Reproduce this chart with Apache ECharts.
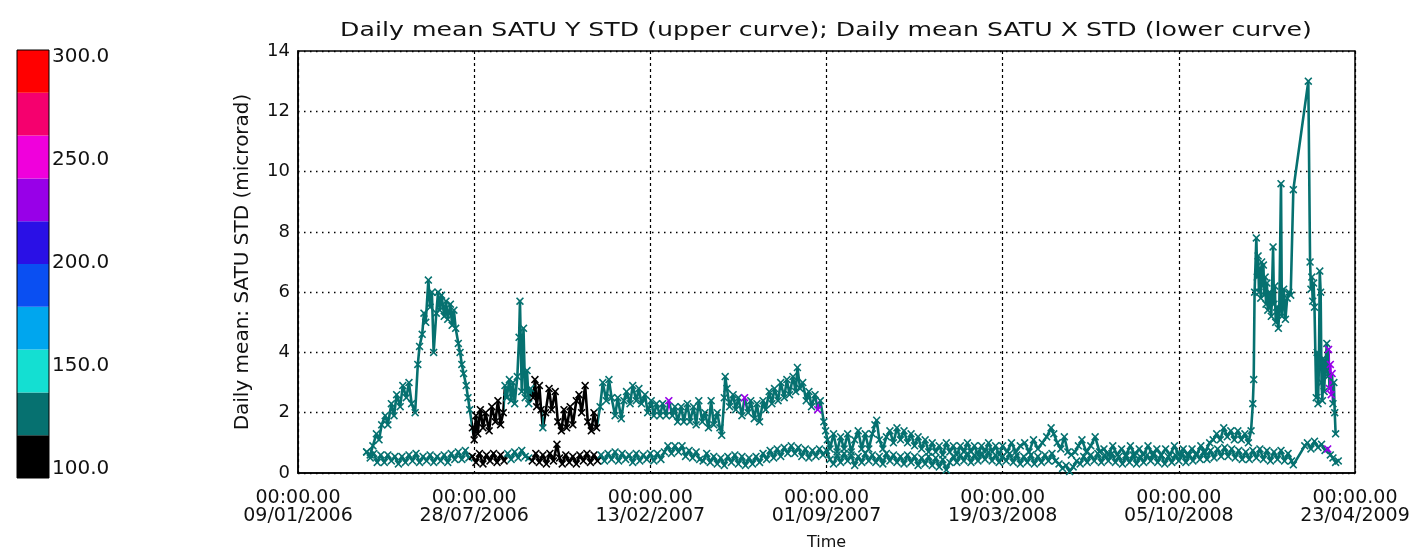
<!DOCTYPE html>
<html><head><meta charset="utf-8">
<script src="https://cdn.jsdelivr.net/npm/echarts@6/dist/echarts.min.js"></script>
<style>html,body{margin:0;padding:0;background:#fff}#c{width:1425px;height:556px}</style>
</head><body><div id="c"></div>
<script>
// ---------------- data ----------------
// x = days since 09/01/2006 00:00, y = microrad
const chartTitle = 'Daily mean SATU Y STD (upper curve); Daily mean SATU X STD (lower curve)';
const yAxisTitle = 'Daily mean: SATU STD (microrad)';
const xAxisTitle = 'Time';
const xTickTimes = ['00:00.00','00:00.00','00:00.00','00:00.00','00:00.00','00:00.00','00:00.00'];
const xTickDates = ['09/01/2006','28/07/2006','13/02/2007','01/09/2007','19/03/2008','05/10/2008','23/04/2009'];

// upper curve: daily mean SATU Y STD  [day, value]
const satuY = [
 [78,0.7],[82,0.6],[85,0.9],[89,1.3],[92,1.1],[95,1.6],[99,1.9],[102,1.6],[106,2.3],[109,1.9],
 [112,2.6],[116,2.2],[119,2.9],[123,2.5],[126,3.0],[129,2.3],[133,2.0],[136,3.6],[138,4.2],[141,4.6],
 [143,5.3],[145,5.0],[148,6.4],[150,5.5],[152,6.0],[154,4.0],[157,5.3],[159,6.0],[161,5.4],[163,5.9],
 [166,5.2],[168,5.7],[170,5.1],[173,5.6],[175,4.9],[177,5.4],[179,4.8],[182,4.3],[184,4.0],[186,3.6],
 [188,3.3],[191,2.9],[193,2.5],[195,2.1],
 [198,1.5],[200,1.1],[202,1.9],[204,1.3],[207,2.1],[210,1.5],[213,2.0],[217,1.4],[220,2.2],[224,1.7],
 [227,2.4],[230,1.6],[233,2.0],
 [235,2.9],[237,2.5],[240,3.1],[242,2.4],[244,3.0],[246,2.3],[249,3.2],[251,4.5],[252,5.7],[254,2.7],
 [256,4.8],[258,2.5],[260,3.4],[262,2.3],[264,2.8],
 [267,2.5],[269,3.1],[271,2.2],[274,2.9],[276,2.1],[278,1.5],[281,2.0],[285,2.8],[288,2.1],[292,2.7],
 [295,1.7],[299,1.4],[302,2.1],[305,1.5],[309,2.2],[312,1.6],[316,2.4],[319,2.6],[322,2.0],[326,2.9],
 [329,1.7],[333,1.4],[336,2.0],[339,1.5],
 [343,2.2],[346,3.0],[350,2.4],[353,3.1],[356,2.5],[360,1.9],[363,2.5],[367,1.8],[370,2.4],[373,2.7],
 [377,2.3],[380,2.9],[384,2.4],[387,2.8],[390,2.3],[394,2.6],[397,2.0],[401,2.4],[404,1.9],[407,2.3],
 [411,1.9],[414,2.3],[418,1.9],[421,2.4],[425,1.9],[428,2.2],[431,1.7],[435,2.2],[438,1.7],[442,2.3],
 [445,1.7],[449,2.2],[452,1.6],[455,2.4],[459,1.7],[462,2.0],[466,1.5],[469,2.4],[472,1.6],[476,2.0],
 [479,1.5],[481,1.25],[484,2.5],[485,3.2],[487,2.8],[490,2.2],[494,2.6],[497,2.1],[500,2.5],[504,1.9],
 [507,2.5],[511,2.0],[514,2.4],[518,1.8],[521,2.3],[524,1.7],[528,2.4],[531,2.1],[535,2.7],[538,2.3],
 [541,2.8],[545,2.4],[548,3.0],[552,2.5],[555,3.1],[558,2.6],[562,3.2],[565,2.7],[567,3.5],[570,2.8],
 [573,3.0],[577,2.4],[580,2.7],[583,2.2],[587,2.6],[590,2.1],[593,2.4],[597,1.7],[599,1.4],[601,1.1],
 [604,0.8],[608,1.3],[612,0.7],[616,1.2],[620,0.8],[624,1.3],[628,0.7],[632,1.1],[636,1.4],[640,0.8],
 [644,1.3],[648,0.8],[652,1.3],[655,1.6],[657,1.75],[660,1.1],[664,0.8],[668,1.2],[672,1.4],[676,1.0],
 [680,1.5],[684,1.1],[688,1.4],[692,1.0],[696,1.3],[700,0.9],[704,1.2],[708,0.8],[712,1.1],[716,0.7],
 [720,1.0],[724,0.7],[728,0.9],[732,0.6],[736,1.0],[740,0.7],[744,0.9],[748,0.6],[752,0.9],[756,0.7],
 [760,1.0],[764,0.7],[768,0.9],[772,0.6],[776,0.9],[780,0.7],[784,1.0],[788,0.7],[792,0.9],[796,0.6],
 [800,0.9],[805,0.7],[810,1.0],[815,0.7],[820,0.9],[825,1.0],[830,0.7],[835,1.1],[840,0.8],[845,1.0],
 [850,1.2],[855,1.5],[858,1.3],[862,1.0],[866,0.8],[870,1.2],[874,0.7],[878,0.6],[882,0.7],[886,0.9],
 [890,1.1],[895,0.7],[900,0.9],[905,1.2],[910,0.7],[915,0.8],[920,0.6],[925,0.9],[930,0.6],[935,0.8],
 [940,0.6],[945,0.9],[950,0.6],[955,0.8],[960,0.6],[965,0.9],[970,0.6],[975,0.8],[980,0.6],[985,0.8],
 [990,0.6],[995,0.9],[1000,0.6],[1005,0.8],[1010,0.6],[1015,0.8],[1020,0.6],[1025,0.9],[1030,0.7],[1035,1.0],
 [1039,1.1],[1043,1.3],[1047,1.1],[1051,1.5],[1055,1.2],[1059,1.4],[1063,1.1],[1067,1.4],[1071,1.1],[1075,1.3],
 [1079,1.0],[1082,1.4],
 [1084,2.3],[1085,3.1],[1086,6.0],[1088,7.8],[1089,6.5],[1090,7.2],[1091,6.0],[1092,6.8],[1093,5.8],[1094,7.0],
 [1095,6.2],[1096,6.9],[1097,5.9],[1098,6.5],[1099,5.6],[1100,6.3],[1101,5.4],[1103,6.0],[1105,5.2],[1107,7.5],
 [1108,5.6],[1109,6.2],[1110,5.0],[1111,5.5],[1113,4.8],[1114,5.4],[1116,9.6],[1117,5.2],[1119,6.1],[1121,5.1],
 [1123,5.8],[1125,6.0],[1127,5.9],[1130,9.4],[1147,13.0],[1149,7.0],[1150,6.1],[1151,6.5],[1152,5.7],[1153,6.3],
 [1154,5.5],[1156,2.5],[1157,4.0],[1158,2.3],[1159,3.5],[1160,6.7],[1161,6.0],[1162,3.0],[1163,2.4],[1164,3.8],
 [1165,2.7],[1166,3.4],[1168,4.3],[1169,3.2],[1170,4.1],[1171,2.8],[1172,3.6],[1173,2.6],[1174,3.3],[1175,2.3],
 [1176,3.0],[1177,2.0],[1178,1.3]
];

// lower curve: daily mean SATU X STD  [day, value]
const satuX = [
 [78,0.7],[82,0.5],[86,0.65],[90,0.35],[94,0.6],[98,0.35],[102,0.6],[106,0.4],[110,0.55],[114,0.3],
 [118,0.55],[122,0.35],[126,0.6],[130,0.4],[134,0.65],[138,0.35],[142,0.55],[146,0.4],[150,0.6],[154,0.35],
 [158,0.55],[162,0.4],[166,0.6],[170,0.35],[174,0.65],[178,0.45],[182,0.7],[186,0.45],[190,0.75],[194,0.5],
 [198,0.55],[202,0.35],[206,0.65],[210,0.3],[214,0.6],[218,0.4],[222,0.65],[226,0.35],[230,0.6],[234,0.4],
 [238,0.65],[242,0.45],[246,0.7],[250,0.5],[254,0.75],[258,0.55],[262,0.5],[266,0.4],[270,0.65],[274,0.35],
 [278,0.6],[282,0.3],[286,0.65],[290,0.4],[294,0.95],[297,0.5],[300,0.3],[304,0.6],[308,0.35],[312,0.55],
 [316,0.3],[320,0.6],[324,0.4],[328,0.65],[332,0.35],[336,0.6],[340,0.4],[344,0.6],[348,0.4],[352,0.65],
 [356,0.45],[360,0.7],[364,0.4],[368,0.65],[372,0.45],[376,0.6],[380,0.35],[384,0.65],[388,0.4],[392,0.6],
 [396,0.45],[400,0.65],[404,0.4],[408,0.65],[412,0.45],[416,0.7],[420,0.9],[424,0.65],[428,0.9],[432,0.7],
 [436,0.9],[440,0.55],[444,0.75],[448,0.5],[452,0.7],[456,0.45],[460,0.4],[464,0.65],[468,0.35],[472,0.55],
 [476,0.3],[480,0.5],[484,0.25],[488,0.55],[492,0.35],[496,0.6],[500,0.3],[504,0.55],[508,0.25],[512,0.5],
 [516,0.3],[520,0.55],[524,0.35],[528,0.65],[532,0.45],[536,0.75],[540,0.5],[544,0.8],[548,0.55],[552,0.85],
 [556,0.65],[560,0.9],[564,0.65],[568,0.85],[572,0.55],[576,0.8],[580,0.5],[584,0.75],[588,0.55],[592,0.8],
 [596,0.6],[600,0.75],
 [604,0.45],[608,0.3],[612,0.6],[616,0.35],[620,0.65],[624,0.4],[628,0.6],[632,0.25],[636,0.55],[640,0.35],
 [644,0.65],[648,0.4],[652,0.6],[656,0.35],[660,0.55],[664,0.3],[668,0.65],[672,0.4],[676,0.6],[680,0.35],
 [684,0.55],[688,0.3],[692,0.6],[696,0.35],[700,0.55],[704,0.25],[708,0.5],[712,0.3],[716,0.55],[720,0.25],
 [724,0.5],[728,0.2],[732,0.45],[736,0.1],[740,0.35],[744,0.55],[748,0.35],[752,0.6],[756,0.4],[760,0.65],
 [764,0.35],[768,0.6],[772,0.4],[776,0.65],[780,0.45],[784,0.7],[788,0.4],[792,0.6],[796,0.35],[800,0.55],
 [804,0.4],[808,0.65],[812,0.35],[816,0.6],[820,0.3],[824,0.55],[828,0.35],[832,0.6],[836,0.3],[840,0.55],
 [844,0.35],[848,0.6],[852,0.4],[856,0.65],[860,0.4],[864,0.3],[868,0.15],[872,0.25],[876,0.05],[880,0.2],
 [884,0.4],[888,0.3],[892,0.55],[896,0.35],[900,0.6],[904,0.4],[908,0.65],[912,0.35],[916,0.6],[920,0.4],
 [924,0.65],[928,0.35],[932,0.55],[936,0.3],[940,0.55],[944,0.35],[948,0.6],[952,0.3],[956,0.55],[960,0.35],
 [964,0.6],[968,0.4],[972,0.65],[976,0.35],[980,0.6],[984,0.3],[988,0.55],[992,0.35],[996,0.6],[1000,0.4],
 [1004,0.65],[1008,0.35],[1012,0.6],[1016,0.4],[1020,0.65],[1024,0.45],[1028,0.7],[1032,0.45],[1036,0.75],[1040,0.5],
 [1044,0.8],[1048,0.55],[1052,0.85],[1056,0.55],[1060,0.8],[1064,0.5],[1068,0.75],[1072,0.45],[1076,0.7],[1080,0.45],
 [1084,0.75],[1088,0.5],[1092,0.8],[1096,0.45],[1100,0.75],[1104,0.4],[1108,0.7],[1112,0.45],[1116,0.75],[1120,0.4],
 [1124,0.65],[1128,0.4],[1130,0.27],[1143,0.9],[1146,1.0],[1150,0.8],[1154,1.05],[1158,0.85],[1162,0.95],[1166,0.75],
 [1169,0.8],[1172,0.6],[1175,0.5],[1178,0.35],[1181,0.4]
];

// colour-scale value of the points, given as day spans [fromDay, toDay, level]; other days sit at baseLevel
const baseLevel = 130;
const satuYColourSpans = [[197,234,110],[266,277,110],[279,341,110],[420,422,230],[506,508,230],[589,591,230],[1170,1174,230]];
const satuXColourSpans = [[197,236,110],[264,342,110],[1168,1170,230]];

// colour bar
const colourbarEdges = [100,120,140,160,180,200,220,240,260,280,300];
const colourbarColours = ['#000000','#067170','#14dfd2','#00a6ee','#0a4ff2','#2a10e6','#9800e8','#f000dc','#f5006e','#ff0000'];

// ---------------- chart ----------------
const FONT = '"DejaVu Sans", sans-serif';
const XSYM = 'path://M0,1.4L1.4,0L5,3.6L8.6,0L10,1.4L6.4,5L10,8.6L8.6,10L5,6.4L1.4,10L0,8.6L3.6,5Z';

function colourForLevel(v) {
  for (let i = 0; i < colourbarColours.length; i++) {
    if (v >= colourbarEdges[i] && v < colourbarEdges[i + 1]) return colourbarColours[i];
  }
  return colourbarColours[colourbarColours.length - 1];
}
function piecesFrom(spans) {
  return spans.map(s => ({ gte: s[0], lte: s[1], color: colourForLevel(s[2]) }));
}

const chart = echarts.init(document.getElementById('c'), null, { renderer: 'canvas' });

const option = {
  animation: false,
  backgroundColor: '#ffffff',
  textStyle: { fontFamily: FONT, color: '#111' },
  graphic: [{
    type: 'text', x: 826, y: 31, z: 100, scaleX: 1.26, scaleY: 1,
    style: { text: chartTitle, fontSize: 20, fontFamily: FONT, fill: '#111', align: 'center', verticalAlign: 'middle' }
  }],
  grid: [
    { left: 298, top: 51, right: 70, bottom: 80, show: true, borderColor: '#000', borderWidth: 1.5, z: 5 },
    { left: 17, top: 50, width: 32, height: 428, show: true, borderColor: '#000', borderWidth: 1, z: 10 },
    { left: 17, top: 57, width: 32, height: 412 }
  ],
  xAxis: [
    {
      type: 'value', gridIndex: 0, min: 0, max: 1200, interval: 200,
      axisLine: { show: true, lineStyle: { color: '#000', width: 1.5 } },
      axisTick: { show: false },
      splitLine: { show: true, lineStyle: { color: '#000', type: [3, 3], width: 1.2 } },
      axisLabel: {
        fontSize: 19, color: '#111', lineHeight: 18, margin: 16, showMinLabel: true, showMaxLabel: true,
        formatter: v => { const i = Math.round(v / 200); return xTickTimes[i] + '\n' + xTickDates[i]; }
      },
      name: xAxisTitle, nameLocation: 'middle', nameGap: 62,
      nameTextStyle: { fontSize: 16, color: '#111' }
    },
    { type: 'value', gridIndex: 1, min: 0, max: 1, show: false },
    { type: 'value', gridIndex: 2, min: 0, max: 1, show: false }
  ],
  yAxis: [
    {
      type: 'value', gridIndex: 0, min: 0, max: 14, interval: 2,
      axisLine: { show: true, lineStyle: { color: '#000', width: 1.5 } },
      axisTick: { show: false },
      splitLine: { show: true, lineStyle: { color: '#000', type: [1.5, 4.5], width: 1.3 } },
      axisLabel: { fontSize: 18, color: '#111', margin: 8 },
      name: yAxisTitle, nameLocation: 'middle', nameGap: 45, nameRotate: 90,
      nameTextStyle: { fontSize: 20, color: '#111' }
    },
    { type: 'value', gridIndex: 1, min: 100, max: 300, show: false },
    {
      type: 'value', gridIndex: 2, min: 100, max: 300, interval: 50, position: 'right',
      axisLine: { show: false }, axisTick: { show: false }, splitLine: { show: false },
      axisLabel: { fontSize: 20, color: '#111', margin: 3, formatter: v => v.toFixed(1) }
    }
  ],
  visualMap: [
    { type: 'piecewise', show: false, seriesIndex: 0, dimension: 0, pieces: piecesFrom(satuYColourSpans), outOfRange: { color: colourForLevel(baseLevel) } },
    { type: 'piecewise', show: false, seriesIndex: 1, dimension: 0, pieces: piecesFrom(satuXColourSpans), outOfRange: { color: colourForLevel(baseLevel) } }
  ],
  series: [
    {
      name: 'SATU Y STD', type: 'line', xAxisIndex: 0, yAxisIndex: 0, data: satuY,
      symbol: XSYM, symbolSize: 8, showAllSymbol: true,
      lineStyle: { width: 2.6 }, itemStyle: { color: colourForLevel(baseLevel) }, z: 6
    },
    {
      name: 'SATU X STD', type: 'line', xAxisIndex: 0, yAxisIndex: 0, data: satuX,
      symbol: XSYM, symbolSize: 8, showAllSymbol: true,
      lineStyle: { width: 2.6 }, itemStyle: { color: colourForLevel(baseLevel) }, z: 7
    },
    {
      type: 'custom', xAxisIndex: 1, yAxisIndex: 1,
      data: colourbarColours.map((c, i) => [colourbarEdges[i], colourbarEdges[i + 1]]),
      renderItem: (params, api) => {
        const lo = api.value(0), hi = api.value(1);
        const p0 = api.coord([0, lo]);
        const p1 = api.coord([1, hi]);
        return {
          type: 'rect',
          shape: { x: p0[0], y: p1[1], width: p1[0] - p0[0], height: p0[1] - p1[1] },
          style: { fill: colourbarColours[params.dataIndex] }
        };
      },
      z: 2
    }
  ]
};
chart.setOption(option);
</script></body></html>
